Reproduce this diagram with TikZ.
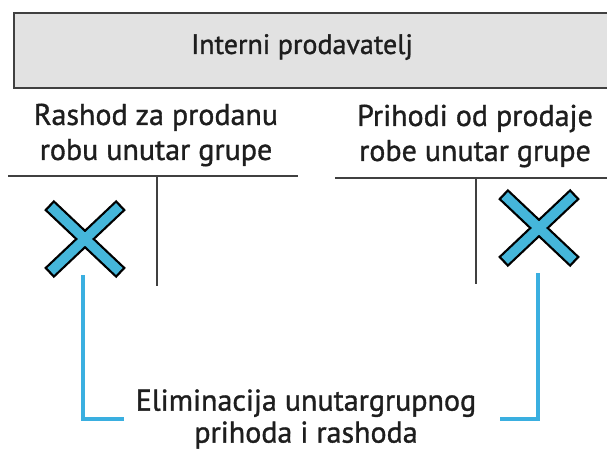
\documentclass[tikz,border=0pt]{standalone}
\usepackage{fontspec}
\setmainfont{PT Sans}[FakeBold=1.1]
\usetikzlibrary{calc}
\definecolor{xcyan}{HTML}{45B6DA}
\definecolor{lineblue}{HTML}{3AAFE0}
\definecolor{hdrfill}{HTML}{E2E2E2}
\definecolor{txt}{HTML}{1E1E1E}
\begin{document}
\begin{tikzpicture}[x=1pt,y=-1pt,
  lbl/.style={font=\fontsize{30}{35}\selectfont, text=txt, align=center, inner sep=0},
  tline/.style={draw=black!75, line width=1.4},
  conn/.style={draw=lineblue, line width=3.2},
  xout/.style={draw=black, line width=14},
  xin/.style={draw=xcyan, line width=9.5}]
\useasboundingbox (0,0) rectangle (607,451);
% header
\node[draw=black!75, line width=1.6, fill=hdrfill, minimum width=600, minimum height=75, anchor=north west, inner sep=0] (hdr) at (13,12) {};
\node[lbl, font=\fontsize{28}{33}\selectfont] (hdrt) at (302,47) {Interni prodavatelj};
% left account
\node[lbl] (ltitle) at (156,135) {Rashod za prodanu\\robu unutar grupe};
\coordinate (lh1) at (8,176);
\coordinate (lh2) at (298,176);
\coordinate (lv1) at (157,176);
\coordinate (lv2) at (157,286);
\draw[tline] (lh1) -- (lh2);
\draw[tline] (lv1) -- (lv2);
% right account
\node[lbl] (rtitle) at (475,136) {Prihodi od prodaje\\robe unutar grupe};
\coordinate (rh1) at (335,178);
\coordinate (rh2) at (607,178);
\coordinate (rv1) at (476,178);
\coordinate (rv2) at (476,284);
\draw[tline] (rh1) -- (rh2);
\draw[tline] (rv1) -- (rv2);
% crosses
\coordinate (xl) at (85,239);
\coordinate (xr) at (539,228);
\foreach \c in {xl,xr}{
  \draw[xout] ($(\c)+(-36,-34)$) -- ($(\c)+(36,34)$);
  \draw[xout] ($(\c)+(-36,34)$) -- ($(\c)+(36,-34)$);
  \draw[xin] ($(\c)+(-34.3,-32.4)$) -- ($(\c)+(34.3,32.4)$);
  \draw[xin] ($(\c)+(-34.3,32.4)$) -- ($(\c)+(34.3,-32.4)$);
}
% bottom label
\node[lbl, font=\fontsize{30}{32}\selectfont] (elim) at (306,419) {Eliminacija unutargrupnog\\prihoda i rashoda};
\coordinate (ls) at (83,275);
\coordinate (lc) at (83,419);
\coordinate (le) at (124,419);
\coordinate (rs) at (538,273);
\coordinate (rc) at (538,419);
\coordinate (re) at (500,419);
\draw[conn] (ls) -- (lc) -- (le);
\draw[conn] (rs) -- (rc) -- (re);
\end{tikzpicture}
\end{document}
